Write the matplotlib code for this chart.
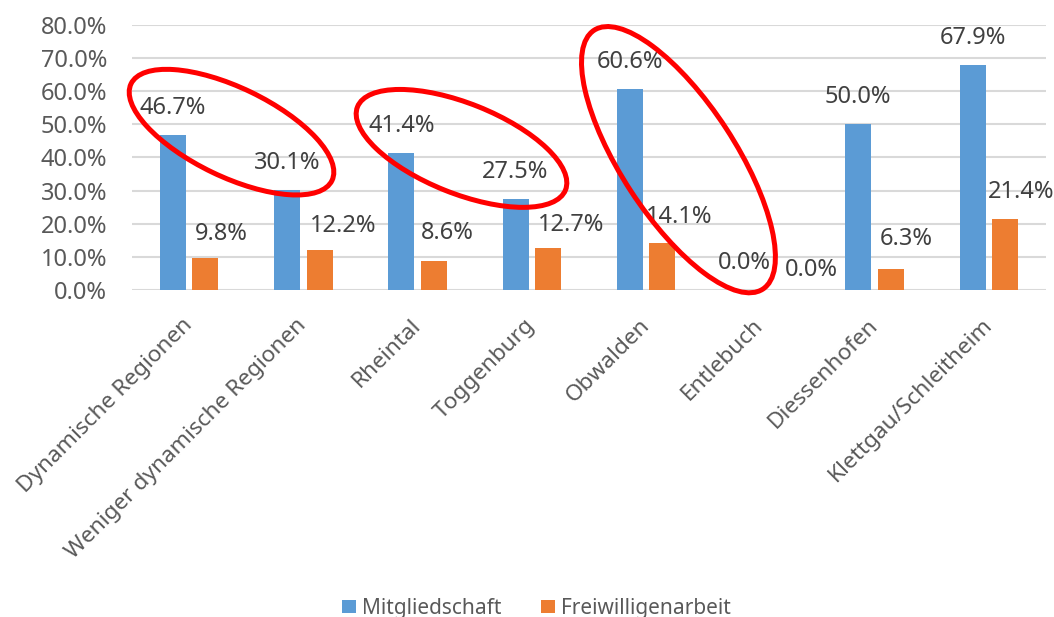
import numpy as np
import matplotlib
matplotlib.use('Agg')
import matplotlib.pyplot as plt
from matplotlib.patches import Ellipse
from matplotlib.transforms import IdentityTransform

plt.rcParams['font.family'] = ['Noto Sans', 'DejaVu Sans']

categories = ['Dynamische Regionen', 'Weniger dynamische Regionen', 'Rheintal',
              'Toggenburg', 'Obwalden', 'Entlebuch', 'Diessenhofen',
              'Klettgau/Schleitheim']
mitglied = [46.7, 30.1, 41.4, 27.5, 60.6, 0.0, 50.0, 67.9]
freiwillig = [9.8, 12.2, 8.6, 12.7, 14.1, 0.0, 6.3, 21.4]
series_names = ['Mitgliedschaft', 'Freiwilligenarbeit']
y_ticks = [0, 10, 20, 30, 40, 50, 60, 70, 80]

# label nudges for the orange series (pixels), Excel placed some by hand
orange_dx = [2, 3, 0, 3, -4, 21, 2, -4]
orange_dy = [24, 24, 28, 23, 26, 20, 30, 27]

# red highlight ellipses: centre (category units, percent), size px, angle deg
highlights = [((0.371, 47.6), 223, 89, -25.7),
              ((2.384, 42.7), 224, 90, -21.8),
              ((4.283, 39.3), 309, 114, -56.9)]

BLUE = '#5B9BD5'
ORANGE = '#ED7D31'
GRID = '#D9D9D9'

fig = plt.figure(figsize=(10.54, 6.17), dpi=100)
ax = fig.add_axes([132 / 1054, 1 - 290 / 617, 914 / 1054, 265.3 / 617])

x = np.arange(len(categories))
w = 0.227
off = 0.143
bars_b = ax.bar(x - off, mitglied, w, color=BLUE, label=series_names[0], zorder=2)
bars_o = ax.bar(x + off, freiwillig, w, color=ORANGE, label=series_names[1], zorder=2)

ax.set_xlim(-0.5, len(categories) - 0.5)
ax.set_ylim(0, 80)
ax.set_yticks(y_ticks)
ax.set_yticklabels([f'{v:.1f}%' for v in y_ticks])
ax.grid(axis='y', color=GRID, linewidth=1.5, zorder=0)
for s in ax.spines.values():
    s.set_visible(False)
ax.tick_params(axis='both', length=0, labelsize=17, colors='#595959')
ax.tick_params(axis='y', pad=18)

# category labels, rotated, right end anchored just below the tick
ax.set_xticks(x)
ax.set_xticklabels([])
for i, cat in enumerate(categories):
    ax.annotate(cat, (x[i], 0), xycoords=('data', 'axes fraction'),
                xytext=(0, -32 * 0.72), textcoords='offset points',
                rotation=45, ha='right', va='center', rotation_mode='anchor',
                fontsize=16.3, color='#595959')

for i, v in enumerate(mitglied):
    ax.annotate(f'{v:.1f}%', (x[i] - off, v), xytext=(0, 27 * 0.72),
                textcoords='offset points', ha='center', va='center',
                fontsize=17, color='#404040')
for i, v in enumerate(freiwillig):
    ax.annotate(f'{v:.1f}%', (x[i] + off - w / 2, v),
                xytext=(orange_dx[i] * 0.72, orange_dy[i] * 0.72),
                textcoords='offset points', ha='left', va='center',
                fontsize=17, color='#404040')

for (cx, cy), ew, eh, ang in highlights:
    px, py = ax.transData.transform((cx, cy))
    fig.add_artist(Ellipse((px, py), ew, eh, angle=ang, fill=False,
                           edgecolor='#FF0000', linewidth=3.6,
                           transform=IdentityTransform(), zorder=5))

leg = fig.legend(handles=[bars_b, bars_o], labels=series_names, loc='center',
                 bbox_to_anchor=(0.509, 0.014), ncol=2, frameon=False,
                 fontsize=15, handlelength=0.65, handleheight=0.65,
                 handletextpad=0.3, columnspacing=1.9)
for t in leg.get_texts():
    t.set_color('#595959')

fig.savefig('out.png', dpi=100)
